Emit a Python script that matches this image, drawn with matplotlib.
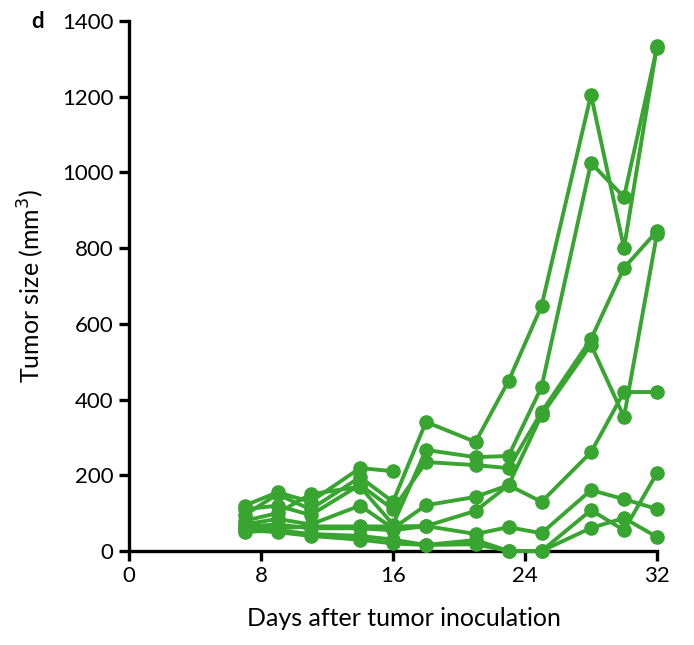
import matplotlib
matplotlib.use("Agg")
import matplotlib.pyplot as plt

plt.rcParams['font.family'] = ['Lato', 'DejaVu Sans']

days = [7, 9, 11, 14, 16, 18, 21, 23, 25, 28, 30, 32]

mouse1 = [95, 150, 110, 195, 130, 341, 288, 449, 647, 1205, 800, 1335]
mouse2 = [80, 100, 150, 170, 70, 267, 248, 251, 433, 1025, 935, 1330]
mouse3 = [110, 120, 95, 175, 110, 235, 227, 219, 367, 560, 748, 845]
mouse4 = [70, 85, 70, 120, 60, 121, 143, 174, 359, 545, 354, 838]
mouse5 = [60, 60, 65, 65, 65, 66, 106, 174, 130, 261, 420, 420]
mouse6 = [50, 55, 45, 40, 30, 16, 18, 0, 0, 108, 55, 206]
mouse7 = [65, 70, 60, 60, 55, 66, 45, 63, 47, 161, 137, 111]
mouse8 = [55, 50, 40, 30, 20, 16, 29, 0, 0, 61, 87, 37]
mouse9_days = [7, 9, 11, 14, 16]
mouse9 = [120, 155, 130, 219, 211]

x_ticks = [0, 8, 16, 24, 32]
y_ticks = [0, 200, 400, 600, 800, 1000, 1200, 1400]

color = '#37a530'

fig = plt.figure(figsize=(6.94, 6.45), dpi=100)
ax = fig.add_axes([0.1859, 0.1457, 0.7608, 0.8217])

series = [(days, mouse1), (days, mouse2), (days, mouse3), (days, mouse4),
          (days, mouse5), (days, mouse6), (days, mouse7), (days, mouse8),
          (mouse9_days, mouse9)]
for xs, ys in series:
    ax.plot(xs, ys, color=color, lw=2.8, marker='o', ms=9.5,
            clip_on=False, zorder=3)

ax.set_xlim(0, 32)
ax.set_ylim(0, 1400)
ax.set_xticks(x_ticks)
ax.set_yticks(y_ticks)
for s in ['top', 'right']:
    ax.spines[s].set_visible(False)
for s in ['left', 'bottom']:
    ax.spines[s].set_linewidth(2.4)
    ax.spines[s].set_color('black')
ax.tick_params(axis='both', direction='out', length=7, width=2.4,
               labelsize=16, colors='black', pad=4)

ax.set_xlabel('Days after tumor inoculation', fontsize=18, labelpad=19)
ax.xaxis.set_label_coords(0.52, -0.105)
ax.set_ylabel('Tumor size (mm$^3$)', fontsize=18, labelpad=12)

fig.text(0.045, 0.967, 'd', fontsize=16, fontweight='bold', va='center')

fig.savefig('out.png', dpi=100)
